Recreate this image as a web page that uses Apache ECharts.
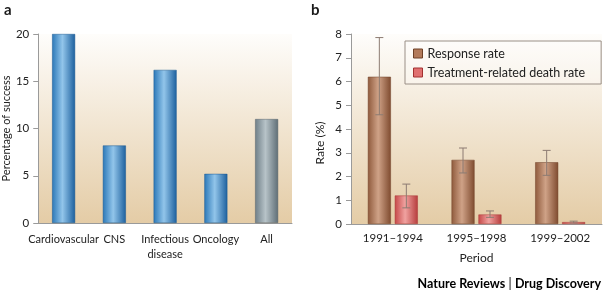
<!DOCTYPE html>
<html>
<head>
<meta charset="utf-8">
<script src="https://cdn.jsdelivr.net/npm/echarts@6/dist/echarts.min.js"></script>
<style>
  html, body { margin: 0; padding: 0; background: #fff; }
  #chart { width: 605px; height: 294px; }
</style>
</head>
<body>
<div id="chart"></div>
<script>
// panel a
var areas = ['Cardiovascular', 'CNS', 'Infectious\ndisease', 'Oncology', 'All'];
var success = [20, 8.2, 16.2, 5.2, 11];
var ticksA = [0, 5, 10, 15, 20];

// panel b
var periods = ['1991–1994', '1995–1998', '1999–2002'];
var response = [6.2, 2.7, 2.6];
var responseLow = [4.6, 2.15, 2.05];
var responseHigh = [7.85, 3.2, 3.1];
var death = [1.2, 0.4, 0.08];
var deathLow = [0.68, 0.28, 0.04];
var deathHigh = [1.68, 0.55, 0.12];
var ticksB = [0, 1, 2, 3, 4, 5, 6, 7, 8];

var FONT = 'Lato';

function cyl(dark, light, dark2) {
	return new echarts.graphic.LinearGradient(0, 0, 1, 0, [
		{ offset: 0, color: dark },
		{ offset: 0.45, color: light },
		{ offset: 1, color: dark2 }
	]);
}
var blue = cyl('#2b78b8', '#92c5ea', '#1d609e');
var grey = cyl('#6f7f88', '#b7c3c8', '#5f6e76');
var brown = cyl('#8f5a3c', '#cfa287', '#7f4b2f');
var red = cyl('#c54848', '#f0a2a0', '#b63c3c');

var bgFill = new echarts.graphic.LinearGradient(0, 0, 0, 1, [
	{ offset: 0, color: '#fefdfb' },
	{ offset: 1, color: '#e4cca6' }
]);

var barData = success.map(function (v, i) {
	if (areas[i] === 'All') {
		return { value: v, itemStyle: { color: grey, borderColor: '#56636a' } };
	}
	return v;
});

// error bars drawn with the axis scales
function errorRenderer(lows, highs, shift) {
	return function (params, api) {
		var i = api.value(0);
		var top = api.coord([i, highs[i]]);
		var bot = api.coord([i, lows[i]]);
		var x = top[0] + shift;
		var cap = 4;
		var st = { stroke: '#8c7b72', lineWidth: 1 };
		return {
			type: 'group',
			children: [
				{ type: 'line', shape: { x1: x, y1: top[1], x2: x, y2: bot[1] }, style: st },
				{ type: 'line', shape: { x1: x - cap, y1: top[1], x2: x + cap, y2: top[1] }, style: st },
				{ type: 'line', shape: { x1: x - cap, y1: bot[1], x2: x + cap, y2: bot[1] }, style: st }
			]
		};
	};
}

var axisLine = { lineStyle: { color: '#9a9a9a', width: 1 } };
var labelStyle = { color: '#222222', fontFamily: FONT, fontSize: 11.5 };

var chart = echarts.init(document.getElementById('chart'));

var option = {
	animation: false,
	textStyle: { fontFamily: FONT },
	grid: [
		{ left: 38, top: 34, width: 254, height: 189, show: true, backgroundColor: bgFill, borderWidth: 0 },
		{ left: 351, top: 34, width: 251, height: 190, show: true, backgroundColor: bgFill, borderWidth: 0 }
	],
	legend: {
		left: 405, top: 41,
		orient: 'vertical',
		padding: [6, 16, 5, 8],
		itemGap: 6,
		itemWidth: 9, itemHeight: 9,
		itemTextGap: 5,
		borderColor: '#9a8f86', borderWidth: 1,
		backgroundColor: 'rgba(255,255,255,0.25)',
		textStyle: { fontFamily: FONT, fontSize: 12.5, color: '#222222' },
		data: [
			{ name: 'Response rate', icon: 'rect', itemStyle: { color: '#b27a5a', borderColor: '#6e4126', borderWidth: 1 } },
			{ name: 'Treatment-related death rate', icon: 'rect', itemStyle: { color: '#e07070', borderColor: '#a33030', borderWidth: 1 } }
		]
	},
	xAxis: [{
		gridIndex: 0,
		type: 'category',
		data: areas,
		axisLine: axisLine,
		axisTick: { alignWithLabel: true, length: 4, lineStyle: { color: '#9a9a9a' } },
		axisLabel: Object.assign({ margin: 9, lineHeight: 15, interval: 0 }, labelStyle, { fontSize: 11 })
	}, {
		gridIndex: 1,
		type: 'category',
		data: periods,
		name: 'Period',
		nameLocation: 'middle',
		nameGap: 28,
		nameTextStyle: { color: '#222222', fontFamily: FONT, fontSize: 12 },
		axisLine: axisLine,
		axisTick: { show: false },
		axisLabel: Object.assign({ margin: 8, interval: 0 }, labelStyle)
	}],
	yAxis: [{
		gridIndex: 0,
		type: 'value',
		min: ticksA[0], max: ticksA[ticksA.length - 1], interval: 5,
		name: 'Percentage of success',
		nameLocation: 'middle',
		nameGap: 25,
		nameTextStyle: { color: '#222222', fontFamily: FONT, fontSize: 11 },
		axisLine: Object.assign({ show: true }, axisLine),
		axisTick: { show: true, length: 5, lineStyle: { color: '#9a9a9a' } },
		axisLabel: Object.assign({ margin: 9 }, labelStyle),
		splitLine: { show: false }
	}, {
		gridIndex: 1,
		type: 'value',
		min: ticksB[0], max: ticksB[ticksB.length - 1], interval: 1,
		name: 'Rate (%)',
		nameLocation: 'middle',
		nameGap: 25,
		nameTextStyle: { color: '#222222', fontFamily: FONT, fontSize: 12, padding: [0, 28, 0, 0] },
		axisLine: Object.assign({ show: true }, axisLine),
		axisTick: { show: true, length: 5, lineStyle: { color: '#9a9a9a' } },
		axisLabel: Object.assign({ margin: 9 }, labelStyle),
		splitLine: { show: false }
	}],
	series: [{
		name: 'Success',
		type: 'bar',
		xAxisIndex: 0, yAxisIndex: 0,
		barWidth: 23,
		data: barData,
		itemStyle: { color: blue, borderColor: '#1a5890', borderWidth: 0.5 }
	}, {
		name: 'Response rate',
		type: 'bar',
		xAxisIndex: 1, yAxisIndex: 1,
		barWidth: 23,
		barGap: '17%',
		data: response,
		itemStyle: { color: brown, borderColor: '#70432a', borderWidth: 0.5 }
	}, {
		name: 'Treatment-related death rate',
		type: 'bar',
		xAxisIndex: 1, yAxisIndex: 1,
		barWidth: 23,
		barGap: '17%',
		data: death,
		itemStyle: { color: red, borderColor: '#a83636', borderWidth: 0.5 }
	}, {
		type: 'custom',
		xAxisIndex: 1, yAxisIndex: 1,
		renderItem: errorRenderer(responseLow, responseHigh, -13.5),
		data: periods.map(function (p, i) { return [i, responseHigh[i]]; }),
		z: 5
	}, {
		type: 'custom',
		xAxisIndex: 1, yAxisIndex: 1,
		renderItem: errorRenderer(deathLow, deathHigh, 13.5),
		data: periods.map(function (p, i) { return [i, deathHigh[i]]; }),
		z: 5
	}],
	graphic: [
		{ type: 'text', left: 4, top: 3, style: { text: 'a', font: 'bold 15px Lato', fill: '#1a1a1a' } },
		{ type: 'text', left: 311, top: 3, style: { text: 'b', font: 'bold 15px Lato', fill: '#1a1a1a' } },
		{
			type: 'text', right: 4, top: 277,
			style: {
				text: '{n|Nature Reviews} {s||} {d|Drug Discovery}',
				rich: {
					n: { fontFamily: FONT, fontWeight: 'bold', fontSize: 12.5, color: '#333333' },
					s: { fontFamily: FONT, fontSize: 12.5, color: '#999999' },
					d: { fontFamily: FONT, fontWeight: 'bold', fontSize: 12.5, color: '#e08a2c' }
				}
			}
		}
	]
};

chart.setOption(option);
</script>
</body>
</html>
